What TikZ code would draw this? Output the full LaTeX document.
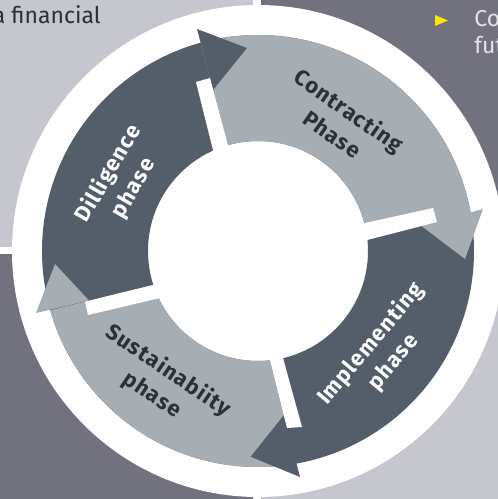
\documentclass[tikz,border=0pt]{standalone}
\usepackage{fontspec}
\setmainfont{Fira Sans}
\newfontfamily\phasefont[LetterSpace=5]{Fira Sans}
\definecolor{quadlight}{HTML}{C5C6CE}
\definecolor{quaddark}{HTML}{72717E}
\definecolor{segdark}{HTML}{535E6A}
\definecolor{seglight}{HTML}{A6AEB3}
\definecolor{txtdark}{HTML}{2D2F38}
\definecolor{txtlight}{HTML}{E4E4E8}
\definecolor{eyyellow}{HTML}{FFE600}
\tikzset{
  phaselbl/.style={font=\phasefont\bfseries\fontsize{11}{14.5}\selectfont, align=center, inner sep=0pt},
  bodytxt/.style={font=\fontsize{11.5}{13.5}\selectfont, inner sep=0pt},
  whitebar/.style={fill=white},
}
\begin{document}
\begin{tikzpicture}[x=0.5pt,y=-0.5pt]
\useasboundingbox (0,0) rectangle (498,499);
% background quadrants
\fill[white] (0,0) rectangle (498,499);
\fill[quadlight] (0,0) rectangle (253,247);
\fill[quaddark] (261,0) rectangle (498,247);
\fill[quaddark] (0,254) rectangle (253,499);
\fill[quadlight] (261,254) rectangle (498,499);
% texts at the corners
\node[bodytxt, text=txtdark, anchor=base east] (fin) at (101,23) {a financial};
\fill[eyyellow] (435,15) -- (435,26) -- (448,20.5) -- cycle;
\node[bodytxt, text=txtlight, anchor=base west] (co) at (474,26) {Co};
\node[bodytxt, text=txtlight, anchor=base west] (fut) at (474,53) {fut};
% white disc
\fill[white] (258,251) circle[radius=246];
% ring (dark base)
\fill[segdark, even odd rule] (258,251) circle[radius=216] (258,251) circle[radius=110];
% light bodies
\begin{scope}
  \clip (238.8,185.2) -- (183,-22.5) -- (560,-60) -- (507,204) -- (283,261.6) -- cycle;
  \fill[seglight, even odd rule] (258,251) circle[radius=216] (258,251) circle[radius=110];
\end{scope}
\begin{scope}
  \clip (249.6,278.4) -- (309,516) -- (-60,560) -- (17,318.4) -- (221,268.3) -- cycle;
  \fill[seglight, even odd rule] (258,251) circle[radius=216] (258,251) circle[radius=110];
\end{scope}
% arrow heads
\fill[segdark] (197,29) -- (247,48) -- (213,90) -- cycle;
\fill[seglight] (483,209) -- (465,259) -- (421.5,226) -- cycle;
\fill[segdark] (300,477) -- (250.7,456.7) -- (284,415) -- cycle;
\fill[seglight] (36,313) -- (55,264) -- (89,300.5) -- cycle;
% white bars
\fill[whitebar] (196,82) -- (210,78) -- (233.4,165.1) -- (218.1,170.4) -- cycle;
\fill[whitebar] (433,208) -- (437,222) -- (342.5,246.3) -- (341.2,228.3) -- cycle;
\fill[whitebar] (287,428) -- (302,427) -- (277.3,337.3) -- (264.9,339.6) -- cycle;
\fill[whitebar] (85,301.7) -- (173.4,280) -- (181.6,292.9) -- (88,315) -- cycle;
% labels
\node[phaselbl, text=white, rotate=60] (dil) at (121,181) {Dilligence\\phase};
\node[phaselbl, text=txtdark, rotate=-35] (con) at (341,122) {Contracting\\Phase};
\node[phaselbl, text=white, rotate=50] (imp) at (382,353) {Implementing\\phase};
\node[phaselbl, text=txtdark, rotate=-34] (sus) at (160,383) {Sustainabiity\\phase};
\end{tikzpicture}
\end{document}
